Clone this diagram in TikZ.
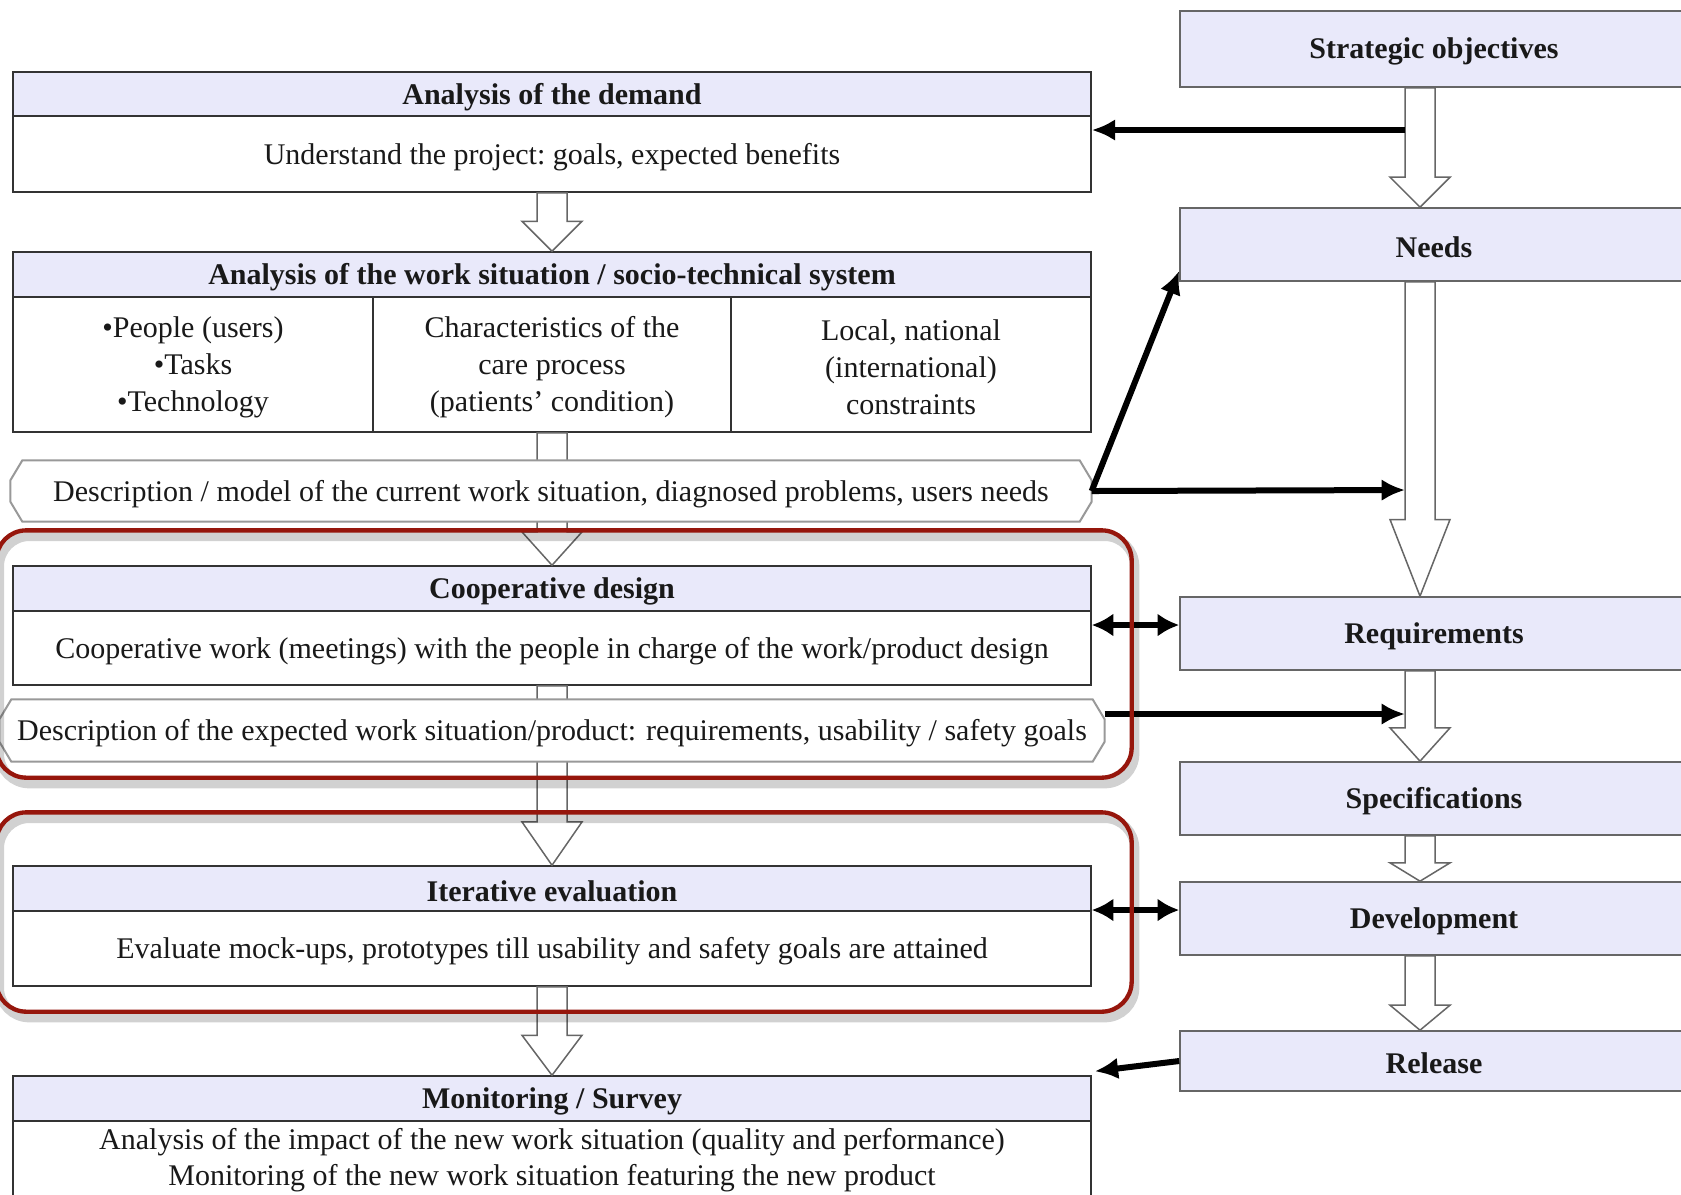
\documentclass[tikz,border=0pt]{standalone}
\usepackage{fontspec}
\setmainfont{Liberation Serif}
\usetikzlibrary{arrows.meta,calc,fit}
\definecolor{hdr}{RGB}{233,233,250}
\definecolor{redbox}{RGB}{150,22,12}
\newcommand\harr[3]{%
  \path[harrow] let \p1=(#1), \p2=(#2) in
   (\x1-4.5pt,\y1) -- (\x1-4.5pt,\y2+#3) -- (\x1-9pt,\y2+#3) -- (\x1,\y2) --
   (\x1+9pt,\y2+#3) -- (\x1+4.5pt,\y2+#3) -- (\x1+4.5pt,\y1) -- cycle;}
\newcommand\octo[1]{%
  \draw[oct] ($(#1.north west)+(12,0)$) -- ($(#1.north east)+(-12,0)$) --
   ($(#1.north east)+(0,20)$) -- ($(#1.south east)+(0,-20)$) --
   ($(#1.south east)+(-12,0)$) -- ($(#1.south west)+(12,0)$) --
   ($(#1.south west)+(0,-20)$) -- ($(#1.north west)+(0,20)$) -- cycle;}
\begin{document}
\begin{tikzpicture}[x=0.3pt,y=-0.3pt,
  every node/.style={font=\fontsize{9}{11}\selectfont, text=black!90},
  hbox/.style={draw=black!80, line width=0.45pt, fill=hdr, inner sep=0pt},
  bbox/.style={draw=black!80, line width=0.45pt, fill=white, inner sep=0pt},
  rbox/.style={draw=black!60, line width=0.5pt, fill=hdr, inner sep=0pt},
  ttl/.style={font=\fontsize{9}{11}\selectfont\bfseries, inner sep=0pt, yshift=-0.8pt},
  txt/.style={align=center, inner sep=0pt, yshift=-0.8pt},
  harrow/.style={draw=black!60, fill=white, line width=0.45pt, line join=miter},
  bk/.style={line width=1.8pt, -{Latex[length=7pt,width=6.5pt]}},
  bk2/.style={line width=1.8pt, {Latex[length=6.5pt,width=7pt]}-{Latex[length=6.5pt,width=7pt]}},
  oct/.style={draw=black!40, fill=white, line width=0.6pt},
  redframe/.style={draw=redbox, line width=1.3pt, rounded corners=9pt},
  shade/.style={draw=black, opacity=0.18, line width=2.8pt, rounded corners=9pt},
  ghost/.style={inner sep=0pt}
]
\useasboundingbox (0,0) rectangle (1681,1194);
\clip (0,0) rectangle (1681,1194);
\fill[white] (0,0) rectangle (1681,1194);

% left column boxes
\node[hbox, fit={(13,72)(1091,116)}] (dmH) {};
\node[bbox, fit={(13,116)(1091,192)}] (dmB) {};
\node[hbox, fit={(13,252)(1091,297)}] (wsH) {};
\node[bbox, fit={(13,297)(373,432)}] (ws1) {};
\node[bbox, fit={(373,297)(731,432)}] (ws2) {};
\node[bbox, fit={(731,297)(1091,432)}] (ws3) {};
\node[ghost, fit={(11,461)(1091,521)}] (d1) {};
\node[hbox, fit={(13,566)(1091,611)}] (cdH) {};
\node[bbox, fit={(13,611)(1091,685)}] (cdB) {};
\node[ghost, fit={(0,700)(1104,761)}] (d2) {};
\node[hbox, fit={(13,866)(1091,911)}] (ieH) {};
\node[bbox, fit={(13,911)(1091,986)}] (ieB) {};
\node[hbox, fit={(13,1076)(1091,1121)}] (moH) {};
\node[bbox, fit={(13,1121)(1091,1215)}] (moB) {};

% right column boxes
\node[rbox, fit={(1180,11)(1700,87)}] (strat) {};
\node[rbox, fit={(1180,208)(1700,281)}] (needs) {};
\node[rbox, fit={(1180,597)(1700,670)}] (req) {};
\node[rbox, fit={(1180,762)(1700,835)}] (spec) {};
\node[rbox, fit={(1180,882)(1700,955)}] (dev) {};
\node[rbox, fit={(1180,1031)(1700,1091)}] (rel) {};

% hollow arrows
\coordinate (rc) at (1420,0);
\harr{dmB.south}{wsH.north}{9pt}
\harr{ws2.south}{cdH.north}{10pt}
\harr{cdB.south}{ieH.north}{13pt}
\harr{ieB.south}{moH.north}{12pt}
\harr{rc |- strat.south}{rc |- needs.north}{9pt}
\harr{rc |- needs.south}{rc |- req.north}{23pt}
\harr{rc |- req.south}{rc |- spec.north}{10pt}
\harr{rc |- spec.south}{rc |- dev.north}{5.5pt}
\harr{rc |- dev.south}{rc |- rel.north}{7.5pt}

% octagonal description shapes
\octo{d1}
\octo{d2}

% texts
\node[ttl] at (dmH) {Analysis of the demand};
\node[txt] at (dmB) {Understand the project:\ goals, expected benefits};
\node[ttl] at (wsH) {Analysis of the work situation / socio-technical system};
\node[txt] at (ws1) {•People (users)\\•Tasks\\•Technology};
\node[txt] at (ws2) {Characteristics of the\\care process\\(patients’ condition)};
\node[txt] at (ws3) {Local, national\\(international)\\constraints};
\node[txt] at (d1) {Description / model of the current work situation, diagnosed problems, users needs};
\node[ttl] at (cdH) {Cooperative design};
\node[txt] at (cdB) {Cooperative work (meetings) with the people in charge of the work/product design};
\node[txt] at (d2) {Description of the expected work situation/product: requirements, usability / safety goals};
\node[ttl] at (ieH) {Iterative evaluation};
\node[txt] at (ieB) {Evaluate mock-ups, prototypes till usability and safety goals are attained};
\node[ttl] at (moH) {Monitoring / Survey};
\node[txt, font=\fontsize{9}{10.8}\selectfont] at ($(moB.north)+(0,37)$) {Analysis of the impact of the new work situation (quality and performance)\\Monitoring of the new work situation featuring the new product};

\node[ttl] at ($(strat.center)+(-6,0)$) {Strategic objectives};
\node[ttl] at ($(needs.center)+(-6,0)$) {Needs};
\node[ttl] at ($(req.center)+(-6,0)$) {Requirements};
\node[ttl] at ($(spec.center)+(-6,0)$) {Specifications};
\node[ttl] at ($(dev.center)+(-6,0)$) {Development};
\node[ttl] at ($(rel.center)+(-6,0)$) {Release};

% black connectors
\coordinate (s1) at (1405,130);
\coordinate (n1) at (1405,490);
\coordinate (n2) at (1405,714);
\coordinate (y625) at (0,625);
\coordinate (y910) at (0,910);
\coordinate (needsIn) at ($(needs.south west)+(0,-11)$);
\coordinate (moIn) at ($(moH.north east)+(3,-4)$);
\draw[bk] (s1) -- (s1 -| dmB.east);
\draw[bk] (d1.east) -- (n1);
\draw[bk] (d1.east) -- (needsIn);
\draw[bk] (n2 -| d2.east) -- (n2);
\draw[bk2] (cdB.east |- y625) -- (req.west |- y625);
\draw[bk2] (ieB.east |- y910) -- (dev.west |- y910);
\draw[bk] (rel.west) -- (moIn);

% red frames with soft shadow
\node[ghost, fit={(-3,531)(1131,777)}] (rf1) {};
\node[ghost, fit={(-3,813)(1131,1011)}] (rf2) {};
\draw[shade] ($(rf1.north west)+(3,6)$) rectangle ($(rf1.south east)+(3,6)$);
\draw[shade] ($(rf2.north west)+(3,6)$) rectangle ($(rf2.south east)+(3,6)$);
\draw[redframe] (rf1.north west) rectangle (rf1.south east);
\draw[redframe] (rf2.north west) rectangle (rf2.south east);
\end{tikzpicture}
\end{document}
